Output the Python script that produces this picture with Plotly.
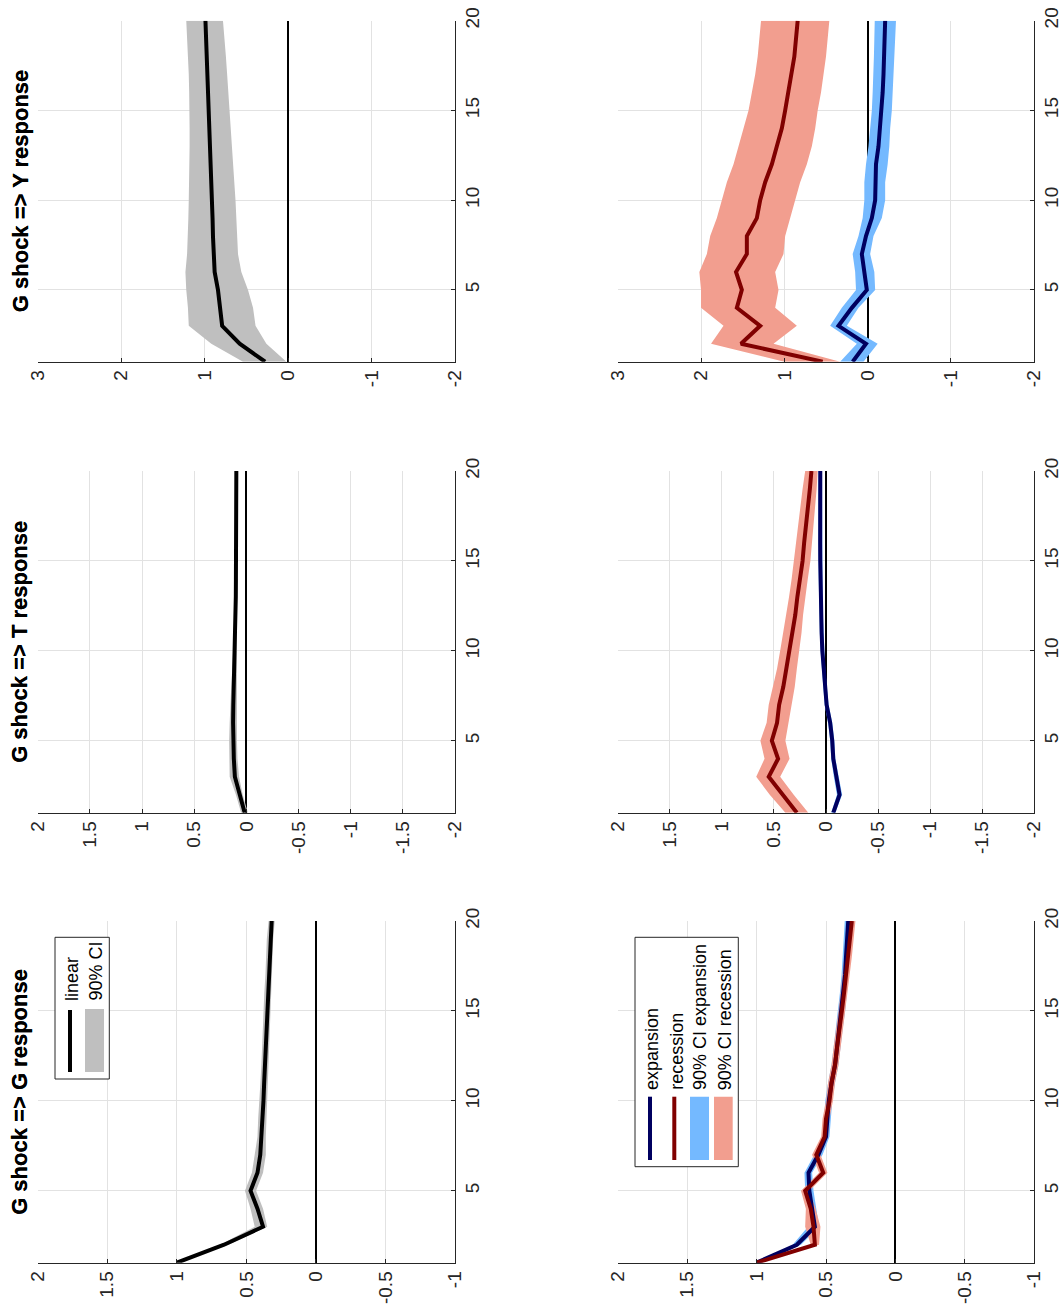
import plotly.graph_objects as go

W, H = 1064, 1308

# Forecast horizon (quarters)
horizon = list(range(1, 21))

# ---- Linear model: impulse responses to a G shock ----
lin_G = [1.00, 0.66, 0.38, 0.42, 0.47, 0.42, 0.40, 0.39, 0.385, 0.377,
         0.372, 0.366, 0.362, 0.357, 0.352, 0.347, 0.340, 0.335, 0.330, 0.318]
lin_G_lo = [1.00, 0.63, 0.35, 0.38, 0.43, 0.38, 0.36, 0.36, 0.355, 0.350,
            0.345, 0.340, 0.336, 0.332, 0.328, 0.323, 0.317, 0.312, 0.307, 0.296]
lin_G_hi = [1.00, 0.69, 0.44, 0.47, 0.51, 0.46, 0.44, 0.42, 0.415, 0.405,
            0.399, 0.392, 0.388, 0.382, 0.376, 0.371, 0.363, 0.358, 0.353, 0.340]

lin_T = [0.016, 0.064, 0.11, 0.12, 0.125, 0.127, 0.125, 0.12, 0.113, 0.107,
         0.104, 0.102, 0.101, 0.100, 0.099, 0.098, 0.097, 0.097, 0.096, 0.096]
lin_T_lo = [-0.015, 0.035, 0.07, 0.085, 0.09, 0.095, 0.095, 0.095, 0.092, 0.09,
            0.09, 0.09, 0.09, 0.09, 0.09, 0.09, 0.09, 0.09, 0.09, 0.09]
lin_T_hi = [0.05, 0.10, 0.16, 0.165, 0.165, 0.16, 0.155, 0.145, 0.135, 0.125,
            0.118, 0.114, 0.112, 0.11, 0.109, 0.107, 0.106, 0.105, 0.104, 0.103]

lin_Y = [0.275, 0.58, 0.79, 0.81, 0.84, 0.88, 0.895, 0.90, 0.905, 0.912,
         0.918, 0.924, 0.930, 0.936, 0.943, 0.951, 0.960, 0.970, 0.980, 0.990]
lin_Y_lo = [0.02, 0.26, 0.39, 0.42, 0.48, 0.56, 0.60, 0.61, 0.62, 0.63,
            0.645, 0.66, 0.67, 0.685, 0.70, 0.715, 0.73, 0.745, 0.76, 0.78]
lin_Y_hi = [0.54, 0.92, 1.19, 1.20, 1.22, 1.23, 1.21, 1.20, 1.195, 1.19,
            1.185, 1.18, 1.18, 1.18, 1.18, 1.185, 1.19, 1.20, 1.21, 1.22]

# ---- Regime-dependent model: expansion vs recession ----
exp_G = [1.00, 0.71, 0.58, 0.60, 0.62, 0.626, 0.555, 0.50, 0.49, 0.48,
         0.46, 0.435, 0.42, 0.405, 0.386, 0.375, 0.363, 0.356, 0.35, 0.34]
exp_G_lo = [1.00, 0.68, 0.55, 0.57, 0.59, 0.60, 0.525, 0.475, 0.465, 0.455,
            0.435, 0.41, 0.395, 0.38, 0.362, 0.35, 0.338, 0.331, 0.325, 0.315]
exp_G_hi = [1.00, 0.74, 0.63, 0.63, 0.65, 0.655, 0.585, 0.525, 0.515, 0.505,
            0.485, 0.46, 0.445, 0.43, 0.41, 0.40, 0.388, 0.381, 0.375, 0.365]
rec_G = [1.00, 0.58, 0.59, 0.61, 0.65, 0.52, 0.57, 0.51, 0.50, 0.475,
         0.46, 0.435, 0.42, 0.40, 0.386, 0.37, 0.355, 0.34, 0.326, 0.314]
rec_G_lo = [1.00, 0.55, 0.54, 0.575, 0.62, 0.49, 0.54, 0.485, 0.475, 0.45,
            0.435, 0.41, 0.395, 0.375, 0.362, 0.345, 0.33, 0.314, 0.30, 0.288]
rec_G_hi = [1.00, 0.61, 0.65, 0.645, 0.68, 0.55, 0.60, 0.535, 0.525, 0.50,
            0.485, 0.46, 0.445, 0.425, 0.41, 0.395, 0.38, 0.366, 0.352, 0.34]

exp_T = [-0.07, -0.13, -0.10, -0.07, -0.06, -0.04, -0.006, 0.01, 0.026, 0.035,
         0.042, 0.047, 0.05, 0.053, 0.055, 0.056, 0.056, 0.055, 0.055, 0.055]
exp_T_lo = [-0.09, -0.155, -0.125, -0.09, -0.08, -0.06, -0.025, -0.008, 0.008, 0.018,
            0.025, 0.03, 0.033, 0.036, 0.038, 0.039, 0.039, 0.038, 0.038, 0.038]
exp_T_hi = [-0.05, -0.105, -0.075, -0.05, -0.04, -0.02, 0.013, 0.028, 0.044, 0.052,
            0.059, 0.064, 0.067, 0.07, 0.072, 0.073, 0.073, 0.072, 0.072, 0.072]
rec_T = [0.28, 0.41, 0.55, 0.46, 0.52, 0.47, 0.45, 0.41, 0.38, 0.35,
         0.32, 0.295, 0.275, 0.25, 0.225, 0.21, 0.19, 0.17, 0.155, 0.14]
rec_T_lo = [0.17, 0.31, 0.44, 0.35, 0.39, 0.36, 0.33, 0.30, 0.28, 0.26,
            0.235, 0.22, 0.20, 0.175, 0.15, 0.135, 0.12, 0.105, 0.09, 0.08]
rec_T_hi = [0.39, 0.54, 0.67, 0.59, 0.63, 0.57, 0.55, 0.51, 0.47, 0.44,
            0.41, 0.38, 0.355, 0.33, 0.31, 0.29, 0.265, 0.245, 0.225, 0.20]

exp_Y = [0.18, 0.02, 0.35, 0.19, 0.01, 0.04, 0.07, 0.02, -0.05, -0.09,
         -0.09, -0.10, -0.13, -0.15, -0.17, -0.18, -0.19, -0.20, -0.205, -0.21]
exp_Y_lo = [0.05, -0.12, 0.25, 0.11, -0.09, -0.08, -0.03, -0.07, -0.17, -0.21,
            -0.21, -0.24, -0.26, -0.27, -0.29, -0.30, -0.31, -0.32, -0.33, -0.34]
exp_Y_hi = [0.33, 0.13, 0.45, 0.31, 0.14, 0.15, 0.18, 0.11, 0.06, 0.04,
            0.04, 0.02, -0.01, -0.03, -0.05, -0.06, -0.07, -0.075, -0.08, -0.085]
rec_Y = [0.54, 1.52, 1.29, 1.57, 1.51, 1.58, 1.45, 1.45, 1.33, 1.29,
         1.23, 1.15, 1.09, 1.03, 0.99, 0.95, 0.91, 0.88, 0.86, 0.84]
rec_Y_lo = [0.33, 1.13, 0.85, 1.11, 1.07, 1.11, 1.01, 0.99, 0.93, 0.87,
            0.81, 0.73, 0.67, 0.63, 0.60, 0.56, 0.53, 0.50, 0.48, 0.46]
rec_Y_hi = [1.00, 1.88, 1.73, 2.00, 2.00, 2.02, 1.93, 1.89, 1.81, 1.75,
            1.69, 1.61, 1.55, 1.49, 1.43, 1.39, 1.35, 1.32, 1.30, 1.28]

# Panel titles and value-axis ticks
titles = {"G": "G shock => G response", "T": "G shock => T response", "Y": "G shock => Y response"}
ticks_G = [2, 1.5, 1, 0.5, 0, -0.5, -1]
ticks_T = [2, 1.5, 1, 0.5, 0, -0.5, -1, -1.5, -2]
ticks_Y = [3, 2, 1, 0, -1, -2]
horizon_ticks = [5, 10, 15, 20]

# Colours
C_LIN = "black"
C_LIN_CI = "#bfbfbf"
C_EXP = "#000060"
C_REC = "#800000"
C_EXP_CI = "#74b9ff"
C_REC_CI = "#f29e8f"
AXC = "#262626"
FONT = "Liberation Sans, Arial, Helvetica, sans-serif"


def px(x):
    return x / W


def py(y):
    return 1 - y / H


# Page layout (pixel boxes of each axes)
col_x = {"L": (37.7, 455.0), "R": (617.7, 1034.3)}
row_y = {"Y": (20.7, 361.7), "T": (471.0, 812.7), "G": (921.0, 1262.7)}


def fmt(v):
    return "%g" % v


panels = [
    ("L", "Y", ticks_Y, [("band", lin_Y_lo, lin_Y_hi, C_LIN_CI), ("line", lin_Y, C_LIN)]),
    ("L", "T", ticks_T, [("band", lin_T_lo, lin_T_hi, C_LIN_CI), ("line", lin_T, C_LIN)]),
    ("L", "G", ticks_G, [("band", lin_G_lo, lin_G_hi, C_LIN_CI), ("line", lin_G, C_LIN)]),
    ("R", "Y", ticks_Y, [("band", rec_Y_lo, rec_Y_hi, C_REC_CI), ("band", exp_Y_lo, exp_Y_hi, C_EXP_CI),
                         ("line", rec_Y, C_REC), ("line", exp_Y, C_EXP)]),
    ("R", "T", ticks_T, [("band", rec_T_lo, rec_T_hi, C_REC_CI), ("band", exp_T_lo, exp_T_hi, C_EXP_CI),
                         ("line", rec_T, C_REC), ("line", exp_T, C_EXP)]),
    ("R", "G", ticks_G, [("band", exp_G_lo, exp_G_hi, C_EXP_CI), ("band", rec_G_lo, rec_G_hi, C_REC_CI),
                         ("line", exp_G, C_EXP), ("line", rec_G, C_REC)]),
]

fig = go.Figure()
layout = {}
annotations = []

for i, (col, row, vt, series) in enumerate(panels, start=1):
    xa = "x" if i == 1 else f"x{i}"
    ya = "y" if i == 1 else f"y{i}"
    x0, x1 = col_x[col]
    y0, y1 = row_y[row]
    layout["xaxis" if i == 1 else f"xaxis{i}"] = dict(
        domain=[px(x0), px(x1)], anchor=ya, automargin=False,
        range=[max(vt), min(vt)],
        tickmode="array", tickvals=vt, ticktext=[fmt(v) for v in vt],
        tickangle=-90, ticks="inside", ticklen=4, tickcolor=AXC, tickwidth=1,
        showline=True, linecolor=AXC, linewidth=1,
        showgrid=True, gridcolor="#e2e2e2", gridwidth=1,
        zeroline=True, zerolinecolor="black", zerolinewidth=1.6,
        tickfont=dict(family=FONT, size=19, color=AXC),
        fixedrange=True,
    )
    layout["yaxis" if i == 1 else f"yaxis{i}"] = dict(
        domain=[py(y1), py(y0)], anchor=xa, side="right", automargin=False,
        range=[1, 20],
        tickmode="array", tickvals=horizon_ticks, ticktext=[str(v) for v in horizon_ticks],
        tickangle=-90, ticks="inside", ticklen=4, tickcolor=AXC, tickwidth=1,
        showline=True, linecolor=AXC, linewidth=1,
        showgrid=True, gridcolor="#e2e2e2", gridwidth=1,
        zeroline=False,
        tickfont=dict(family=FONT, size=19, color=AXC),
        fixedrange=True,
    )
    for s in series:
        if s[0] == "band":
            _, lo, hi, c = s
            fig.add_trace(go.Scatter(
                x=list(hi) + list(lo)[::-1], y=horizon + horizon[::-1],
                fill="toself", fillcolor=c, line=dict(width=0), mode="lines",
                xaxis=xa, yaxis=ya, hoverinfo="skip"))
        else:
            _, v, c = s
            fig.add_trace(go.Scatter(
                x=v, y=horizon, mode="lines", line=dict(color=c, width=4),
                xaxis=xa, yaxis=ya))
    annotations.append(dict(
        text="<b>" + titles[row] + "</b>", xref="paper", yref="paper",
        x=px(20), y=py((y0 + y1) / 2), xanchor="center", yanchor="middle",
        textangle=-90, showarrow=False, font=dict(family=FONT, size=22, color="black")))

# Legends drawn as rotated boxes
shapes = []


def legend_box(x0, x1, y0, y1):
    shapes.append(dict(type="rect", xref="paper", yref="paper",
                       x0=px(x0), x1=px(x1), y0=py(y1), y1=py(y0),
                       line=dict(color=AXC, width=1), fillcolor="white", layer="above"))


def legend_line(x, y0, y1, c):
    shapes.append(dict(type="line", xref="paper", yref="paper",
                       x0=px(x), x1=px(x), y0=py(y1), y1=py(y0),
                       line=dict(color=c, width=4), layer="above"))


def legend_patch(x0, x1, y0, y1, c):
    shapes.append(dict(type="rect", xref="paper", yref="paper",
                       x0=px(x0), x1=px(x1), y0=py(y1), y1=py(y0),
                       line=dict(width=0), fillcolor=c, layer="above"))


def legend_text(x, ybottom, text):
    annotations.append(dict(
        text=text, xref="paper", yref="paper", x=px(x), y=py(ybottom),
        xanchor="center", yanchor="bottom", textangle=-90, showarrow=False,
        font=dict(family=FONT, size=18, color="black")))


# linear model legend
legend_box(55, 109.3, 937.3, 1079)
legend_line(70, 1010, 1072, C_LIN)
legend_patch(85, 104, 1009, 1072, C_LIN_CI)
legend_text(72, 1003, "linear")
legend_text(95, 1003, "90% CI")

# regime model legend
legend_box(635, 738.3, 937.3, 1166.7)
legend_line(650, 1096.7, 1160, C_EXP)
legend_line(674.3, 1096.7, 1160, C_REC)
legend_patch(690, 709, 1096.7, 1160, C_EXP_CI)
legend_patch(714, 732.7, 1096.7, 1160, C_REC_CI)
legend_text(652, 1092, "expansion")
legend_text(676.3, 1092, "recession")
legend_text(700, 1092, "90% CI expansion")
legend_text(724.7, 1092, "90% CI recession")

fig.update_layout(
    template="none",
    width=W, height=H, margin=dict(l=0, r=0, t=0, b=0, pad=0, autoexpand=False),
    paper_bgcolor="white", plot_bgcolor="white", showlegend=False,
    annotations=annotations, shapes=shapes, **layout)

fig.write_html("out.html")
